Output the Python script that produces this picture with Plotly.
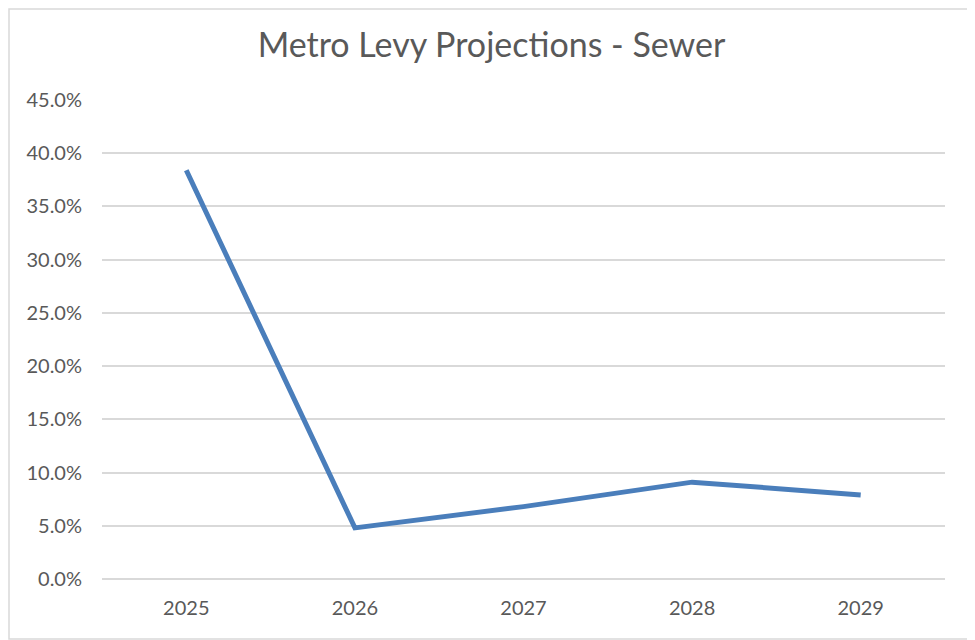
import plotly.graph_objects as go

# ── data ──
years = ["2025", "2026", "2027", "2028", "2029"]
levy_pct = [0.384, 0.048, 0.068, 0.091, 0.079]

y_ticks = [0, 0.05, 0.10, 0.15, 0.20, 0.25, 0.30, 0.35, 0.40, 0.45]

grey_txt = "#595959"
grid = "#d9d9d9"

fig = go.Figure(
    go.Scatter(
        x=years,
        y=levy_pct,
        mode="lines",
        line=dict(color="#4a7ebb", width=5),
        hoverinfo="x+y",
    )
)

# page body has an 8px margin, so the figure is sized a bit under the window
fig.update_layout(
    width=967,
    height=632,
    paper_bgcolor="white",
    plot_bgcolor="white",
    margin=dict(l=94, r=30, t=92, b=61),
    showlegend=False,
    title=dict(
        text="Metro Levy Projections - Sewer",
        x=0.5,
        xanchor="center",
        y=1 - 37 / 632,
        yanchor="middle",
        font=dict(family="Lato", size=34, color=grey_txt),
    ),
    font=dict(family="Lato", size=20, color=grey_txt),
)

fig.update_xaxes(
    type="category",
    range=[-0.5, 4.5],
    showgrid=False,
    showline=False,
    ticks="",
    ticklabelstandoff=15,
)

fig.update_yaxes(
    range=[0, 0.45],
    tickvals=y_ticks,
    tickformat=".1%",
    showgrid=True,
    gridcolor=grid,
    gridwidth=1.5,
    zeroline=True,
    zerolinecolor=grid,
    zerolinewidth=1.5,
    showline=False,
    ticks="",
    ticklabelstandoff=19,
)

# thin frame round the whole chart, like the spreadsheet chart border
fig.add_shape(
    type="rect",
    xref="paper", yref="paper",
    x0=-93 / 843, x1=1 + 29 / 843,
    y0=-60 / 479, y1=1 + 91 / 479,
    line=dict(color=grid, width=1.5),
    layer="below",
)

fig.write_html("out.html")
